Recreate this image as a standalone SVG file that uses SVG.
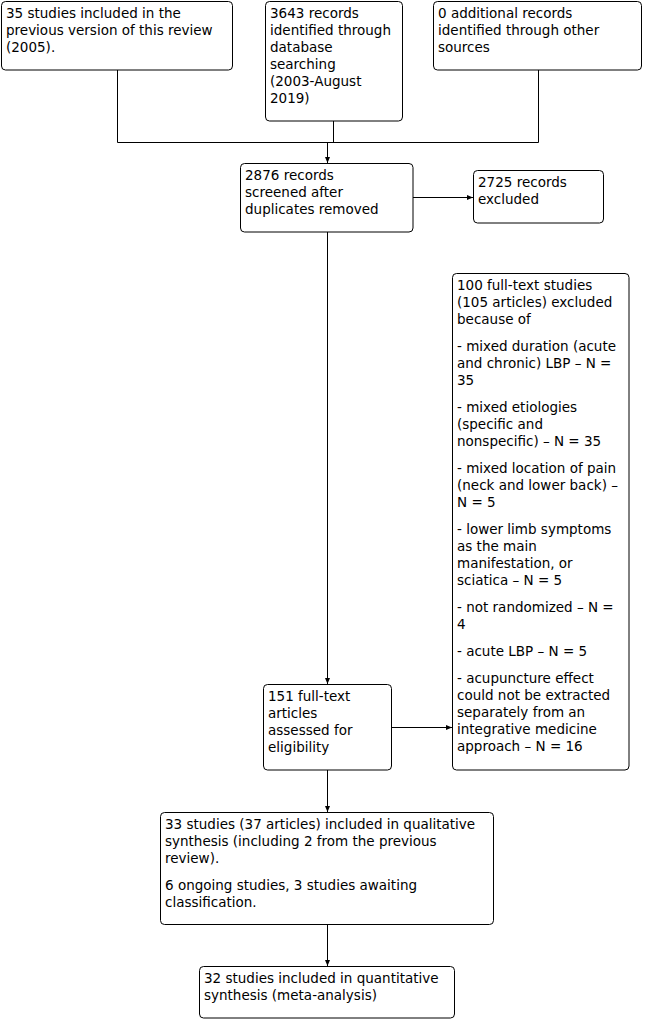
<svg xmlns="http://www.w3.org/2000/svg" width="645" height="1020" viewBox="0 0 645 1020">
<defs>
<style>
.box{fill:#fff;stroke:#000;stroke-width:1}
.t{font-family:"DejaVu Sans",Verdana,sans-serif;font-size:13.5px;fill:#000}
.ln{fill:none;stroke:#000;stroke-width:1}
</style>
<marker id="ah" markerWidth="6" markerHeight="6" refX="6" refY="3" orient="auto" markerUnits="userSpaceOnUse">
<path d="M0,0.5 L6,3 L0,5.5 Z" fill="#000"/>
</marker>
</defs>
<rect width="645" height="1020" fill="#fff"/>
<g id="connectors">
<polyline class="ln" points="117.5,70 117.5,142.5 538.5,142.5"/>
<line class="ln" x1="538.5" y1="70" x2="538.5" y2="142.5"/>
<line class="ln" x1="333.5" y1="121" x2="333.5" y2="142.5"/>
<line class="ln" x1="327.5" y1="142.5" x2="327.5" y2="163" marker-end="url(#ah)"/>
<line class="ln" x1="413" y1="197.5" x2="473" y2="197.5" marker-end="url(#ah)"/>
<line class="ln" x1="327.5" y1="232" x2="327.5" y2="684" marker-end="url(#ah)"/>
<line class="ln" x1="391.5" y1="727.5" x2="452" y2="727.5" marker-end="url(#ah)"/>
<line class="ln" x1="327.5" y1="770" x2="327.5" y2="812" marker-end="url(#ah)"/>
<line class="ln" x1="327.5" y1="924.5" x2="327.5" y2="966" marker-end="url(#ah)"/>
</g>
<g id="n1">
<rect class="box" x="1.5" y="1.5" width="231" height="68.5" rx="4"/>
<text class="t" x="6" y="18">35 studies included in the</text>
<text class="t" x="6" y="35">previous version of this review</text>
<text class="t" x="6" y="52">(2005).</text>
</g>
<g id="n2">
<rect class="box" x="265.5" y="1.5" width="137" height="119.5" rx="4"/>
<text class="t" x="270" y="18">3643 records</text>
<text class="t" x="270" y="35">identified through</text>
<text class="t" x="270" y="52">database</text>
<text class="t" x="270" y="69">searching</text>
<text class="t" x="270" y="86">(2003-August</text>
<text class="t" x="270" y="103">2019)</text>
</g>
<g id="n3">
<rect class="box" x="433.5" y="1.5" width="208" height="68.5" rx="4"/>
<text class="t" x="438" y="18">0 additional records</text>
<text class="t" x="438" y="35">identified through other</text>
<text class="t" x="438" y="52">sources</text>
</g>
<g id="n4">
<rect class="box" x="240.5" y="163.5" width="172.5" height="68.5" rx="4"/>
<text class="t" x="245" y="180">2876 records</text>
<text class="t" x="245" y="197">screened after</text>
<text class="t" x="245" y="214">duplicates removed</text>
</g>
<g id="n5">
<rect class="box" x="473.5" y="170.5" width="130" height="52.5" rx="4"/>
<text class="t" x="478" y="187">2725 records</text>
<text class="t" x="478" y="204">excluded</text>
</g>
<g id="n6">
<rect class="box" x="263.5" y="684.5" width="128" height="85.5" rx="4"/>
<text class="t" x="268" y="701">151 full-text</text>
<text class="t" x="268" y="718">articles</text>
<text class="t" x="268" y="735">assessed for</text>
<text class="t" x="268" y="752">eligibility</text>
</g>
<g id="n7">
<rect class="box" x="452.5" y="273.5" width="176.5" height="496.5" rx="4"/>
<text class="t" x="457" y="290">100 full-text studies</text>
<text class="t" x="457" y="307">(105 articles) excluded</text>
<text class="t" x="457" y="324">because of</text>
<text class="t" x="457" y="351">- mixed duration (acute</text>
<text class="t" x="457" y="368">and chronic) LBP – N =</text>
<text class="t" x="457" y="385">35</text>
<text class="t" x="457" y="412">- mixed etiologies</text>
<text class="t" x="457" y="429">(specific and</text>
<text class="t" x="457" y="446">nonspecific) – N = 35</text>
<text class="t" x="457" y="473">- mixed location of pain</text>
<text class="t" x="457" y="490">(neck and lower back) –</text>
<text class="t" x="457" y="507">N = 5</text>
<text class="t" x="457" y="534">- lower limb symptoms</text>
<text class="t" x="457" y="551">as the main</text>
<text class="t" x="457" y="568">manifestation, or</text>
<text class="t" x="457" y="585">sciatica – N = 5</text>
<text class="t" x="457" y="612">- not randomized – N =</text>
<text class="t" x="457" y="629">4</text>
<text class="t" x="457" y="656">- acute LBP – N = 5</text>
<text class="t" x="457" y="683">- acupuncture effect</text>
<text class="t" x="457" y="700">could not be extracted</text>
<text class="t" x="457" y="717">separately from an</text>
<text class="t" x="457" y="734">integrative medicine</text>
<text class="t" x="457" y="751">approach – N = 16</text>
</g>
<g id="n8">
<rect class="box" x="160.5" y="812.5" width="333" height="112" rx="4"/>
<text class="t" x="165" y="829">33 studies (37 articles) included in qualitative</text>
<text class="t" x="165" y="846">synthesis (including 2 from the previous</text>
<text class="t" x="165" y="863">review).</text>
<text class="t" x="165" y="890">6 ongoing studies, 3 studies awaiting</text>
<text class="t" x="165" y="907">classification.</text>
</g>
<g id="n9">
<rect class="box" x="199.5" y="966.5" width="255" height="51.5" rx="4"/>
<text class="t" x="204" y="983">32 studies included in quantitative</text>
<text class="t" x="204" y="1000">synthesis (meta-analysis)</text>
</g>
</svg>
